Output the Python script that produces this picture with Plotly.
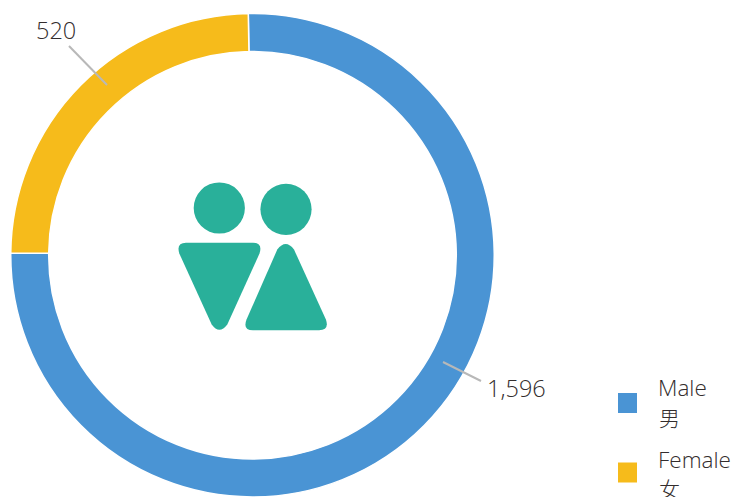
import plotly.graph_objects as go

W, H = 732, 497

categories = ["Male", "Female"]
categories_zh = ["男", "女"]
values = [1596, 520]
colors = ["#4A94D4", "#F6BB1B"]
ICON = "#29B09A"
TEXT = "#332D2D"
LEADER = "#B8B8B8"
LATIN = "Open Sans"
CJK = "Noto Sans CJK SC"


def px(x):
    return x / W


def py(y):
    return 1 - y / H


def path(cmds):
    out = []
    for c in cmds:
        nums = c[1:]
        pairs = [f"{px(nums[i]):.5f},{py(nums[i+1]):.5f}" for i in range(0, len(nums), 2)]
        out.append(c[0] + " ".join(pairs))
    return " ".join(out) + " Z"


fig = go.Figure(
    go.Pie(
        labels=categories,
        values=values,
        hole=0.843,
        sort=False,
        direction="clockwise",
        rotation=-1,
        marker=dict(colors=colors, line=dict(color="white", width=1.5)),
        textinfo="none",
        showlegend=False,
        hoverinfo="label+value",
        domain=dict(x=[px(10.5), px(494.5)], y=[0, py(13.5)]),
    )
)

shapes = []


def circle(cx, cy, r):
    shapes.append(dict(type="circle", xref="paper", yref="paper",
                       x0=px(cx - r), x1=px(cx + r), y0=py(cy + r), y1=py(cy - r),
                       fillcolor=ICON, line_width=0))


circle(219.3, 208, 25.6)
circle(286, 209.3, 25.6)

male_body = [
    ("M", 186, 242.8), ("L", 253, 242.8), ("Q", 263, 242.8, 259.5, 253.5),
    ("L", 227.3, 324.5), ("Q", 219.3, 335, 211.7, 324.5), ("L", 179.3, 253.5),
    ("Q", 176, 242.8, 186, 242.8),
]
female_body = [
    ("M", 277.3, 249.5), ("Q", 285.7, 238.5, 294, 249.5), ("L", 325.9, 319.5),
    ("Q", 329.5, 330.3, 319, 330.3), ("L", 253, 330.3),
    ("Q", 242.5, 330.3, 246.5, 319.5), ("L", 277.3, 249.5),
]
for body in (male_body, female_body):
    shapes.append(dict(type="path", xref="paper", yref="paper", path=path(body),
                       fillcolor=ICON, line_width=0))

leaders = [(443, 362, 481, 381), (69, 46, 107, 85)]
for x0, y0, x1, y1 in leaders:
    shapes.append(dict(type="line", xref="paper", yref="paper",
                       x0=px(x0), y0=py(y0), x1=px(x1), y1=py(y1),
                       line=dict(color=LEADER, width=2)))

swatch_y = [403, 472.5]
for c, sy in zip(colors, swatch_y):
    shapes.append(dict(type="rect", xref="paper", yref="paper",
                       x0=px(618), x1=px(637), y0=py(sy + 10), y1=py(sy - 10),
                       fillcolor=c, line_width=0))

annotations = []


def text(s, x, y, size, family, anchor="left"):
    annotations.append(dict(text=s, xref="paper", yref="paper", x=px(x), y=py(y),
                            xanchor=anchor, yanchor="middle", showarrow=False,
                            borderpad=0,
                            font=dict(family=family, size=size, color=TEXT, weight=300)))


text(f"{values[0]:,}", 486, 388, 23.5, LATIN)
text(f"{values[1]:,}", 35, 30, 23.5, LATIN)
name_y = [387, 459]
zh_y = [417, 488]
for name, zh, ny, zy in zip(categories, categories_zh, name_y, zh_y):
    text(name, 656.5, ny, 22.5, LATIN)
    text(zh, 658, zy, 21, CJK)

fig.update_layout(
    width=W, height=H,
    autosize=False,
    margin=dict(l=0, r=0, t=0, b=0),
    paper_bgcolor="white",
    plot_bgcolor="white",
    showlegend=False,
    shapes=shapes,
    annotations=annotations,
)

fig.write_html("out.html", config=dict(displayModeBar=False),
               post_script="document.body.style.margin='0';document.body.style.overflow='hidden';")
